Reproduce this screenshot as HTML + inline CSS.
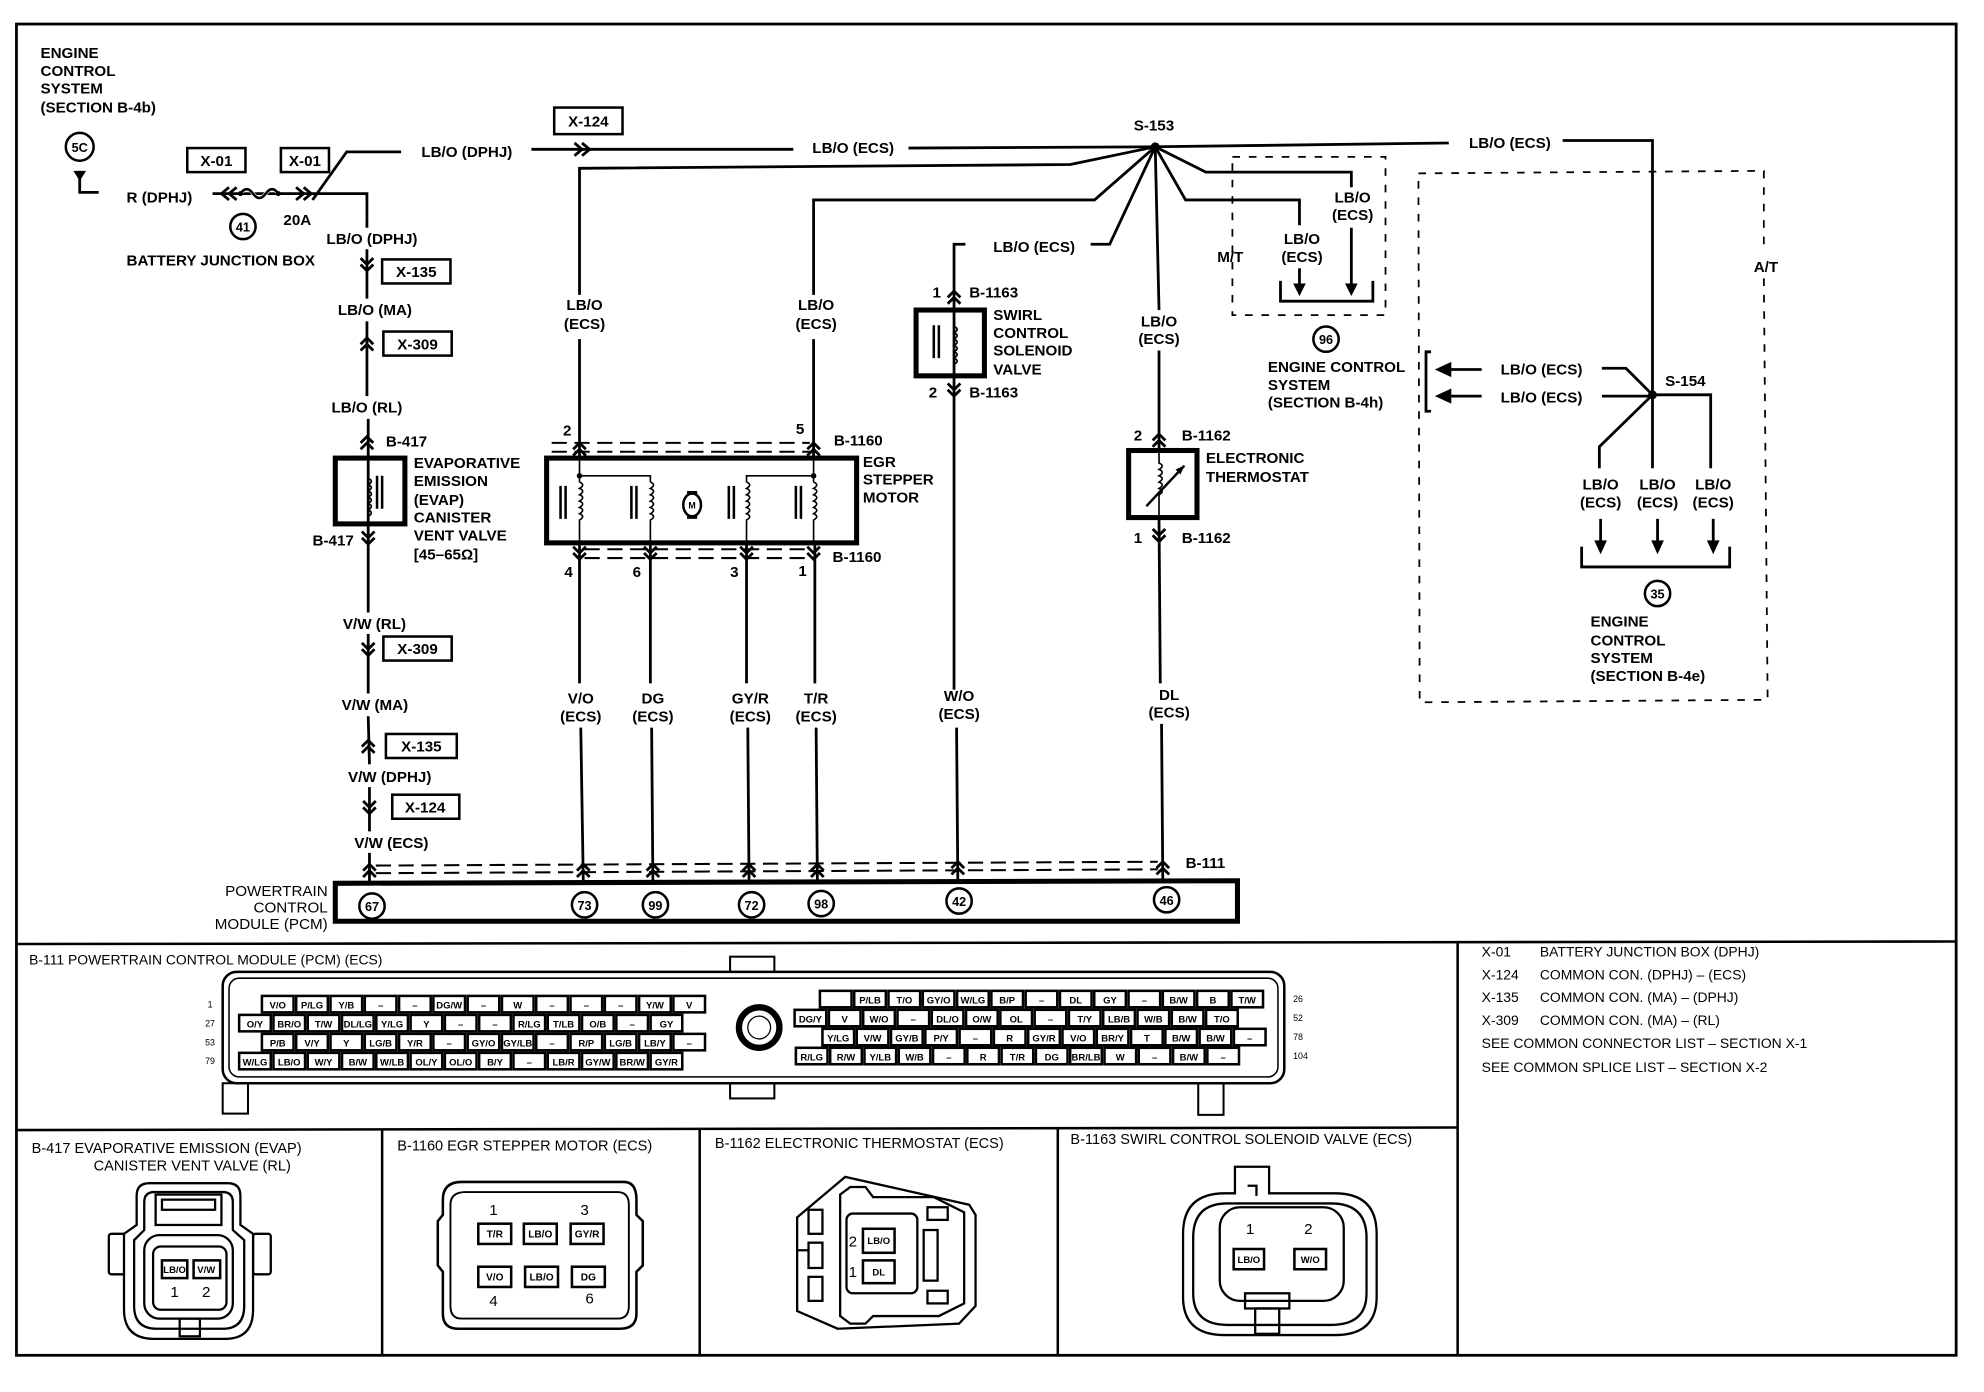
<!DOCTYPE html>
<html><head><meta charset="utf-8"><style>
html,body{margin:0;padding:0;background:#fff;}
svg{display:block;}
text{font-family:"Liberation Sans",Arial,sans-serif;fill:#000;}
.b{font-weight:bold;font-size:12px;}
.n{font-size:11px;}
.p{font-size:7.5px;font-weight:bold;}
.w{fill:none;stroke:#000;stroke-width:2.2;}
.t{fill:none;stroke:#000;stroke-width:1.3;}
.k{fill:none;stroke:#000;stroke-width:4;}
.d{fill:none;stroke:#000;stroke-width:1.6;stroke-dasharray:12 6;}
.dl{fill:none;stroke:#000;stroke-width:1.4;stroke-dasharray:6 7;}
.c{fill:#fff;stroke:#000;stroke-width:2;}
.cell{fill:#fff;stroke:#000;stroke-width:2;}
</style></head><body>
<svg width="1984" height="1392" viewBox="0 0 1568 1100" preserveAspectRatio="none" xmlns="http://www.w3.org/2000/svg">
<rect x="0" y="0" width="1568" height="1100" fill="#fff"/>
<!-- outer frame -->
<rect x="13" y="19" width="1533" height="1052" fill="none" stroke="#000" stroke-width="2.2"/>
<line x1="13" y1="746" x2="1546" y2="744" stroke="#000" stroke-width="2"/>
<line x1="13" y1="893" x2="1152" y2="891" stroke="#000" stroke-width="2"/>
<line x1="1152" y1="744" x2="1152" y2="1071" stroke="#000" stroke-width="2"/>
<line x1="302" y1="893" x2="302" y2="1071" stroke="#000" stroke-width="2"/>
<line x1="553" y1="893" x2="553" y2="1071" stroke="#000" stroke-width="2"/>
<line x1="836" y1="891" x2="836" y2="1071" stroke="#000" stroke-width="2"/>

<!-- top-left ECS ref -->
<text class="b" x="32" y="46">ENGINE</text>
<text class="b" x="32" y="60">CONTROL</text>
<text class="b" x="32" y="74">SYSTEM</text>
<text class="b" x="32" y="89">(SECTION B-4b)</text>
<circle cx="63" cy="116" r="11" class="c"/><text class="b" x="63" y="120" text-anchor="middle" style="font-size:10px">5C</text>
<polygon points="58,135 68,135 63,143" fill="#000"/>
<path class="w" d="M63 135 L63 152 L78 152"/>
<text class="b" x="100" y="160">R (DPHJ)</text>
<path class="w" d="M168 153 L290 153 L290 172"/>
<path class="w" d="M181 148 L175 153 L181 158 M187 148 L181 153 L187 158"/>
<path d="M190 153 q5 -7 10 0 q5 7 10 0 q5 -7 10 0" fill="none" stroke="#fff" stroke-width="3"/>
<path d="M190 153 q5 -7 10 0 q5 7 10 0 q5 -7 10 0" fill="none" stroke="#000" stroke-width="2"/>
<circle cx="190" cy="153" r="2" fill="#000"/><circle cx="220" cy="153" r="2" fill="#000"/>
<path class="w" d="M234 148 L240 153 L234 158 M240 148 L246 153 L240 158"/>
<path class="w" d="M247 158 L274 120 L317 120"/>
<rect x="148" y="117" width="46" height="19" fill="none" stroke="#000" stroke-width="2"/><text class="b" x="171" y="131" text-anchor="middle">X-01</text>
<rect x="222" y="117" width="38" height="19" fill="none" stroke="#000" stroke-width="2"/><text class="b" x="241" y="131" text-anchor="middle">X-01</text>
<circle cx="192" cy="179" r="10" class="c"/><text class="b" x="192" y="183" text-anchor="middle" style="font-size:10px">41</text>
<text class="b" x="224" y="178">20A</text>
<text class="b" x="100" y="210">BATTERY JUNCTION BOX</text>
<text class="b" x="333" y="124">LB/O (DPHJ)</text>
<rect x="438" y="85" width="54" height="21" fill="none" stroke="#000" stroke-width="2"/><text class="b" x="465" y="100" text-anchor="middle">X-124</text>
<path class="w" d="M420 118 L627 118 M718 117 L912 116"/>
<path class="w" d="M454 113 L460 118 L454 123 M460 113 L466 118 L460 123"/>
<text class="b" x="642" y="121">LB/O (ECS)</text>
<text class="b" x="912" y="103" text-anchor="middle">S-153</text>
<circle cx="913" cy="116" r="3.5" fill="#000"/>
<path class="w" d="M913 116 L1145 113 M1235 111 L1306 111 L1306 312"/>
<text class="b" x="1161" y="117">LB/O (ECS)</text>

<!-- EVAP column wire x=291 -->
<path class="w" d="M290 172 L290 180 M290 197 L290 236 M290 254 L290 313 M291 331 L291 484 M291 501 L291 548 M291 566 L292 604 M292 622 L292 657 M292 674 L292 698"/>
<text class="b" x="258" y="193">LB/O (DPHJ)</text>
<path class="w" d="M285 204 L290 209 L295 204 M285 209 L290 214 L295 209"/>
<rect x="302" y="205" width="54" height="19" fill="none" stroke="#000" stroke-width="2"/><text class="b" x="329" y="219" text-anchor="middle">X-135</text>
<text class="b" x="267" y="249">LB/O (MA)</text>
<path class="w" d="M285 272 L290 267 L295 272 M285 277 L290 272 L295 277"/>
<rect x="303" y="262" width="54" height="19" fill="none" stroke="#000" stroke-width="2"/><text class="b" x="330" y="276" text-anchor="middle">X-309</text>
<text class="b" x="262" y="326">LB/O (RL)</text>
<path class="w" d="M285 350 L290 345 L295 350 M285 355 L290 350 L295 355"/>
<text class="b" x="305" y="353">B-417</text>
<rect x="265" y="362" width="55" height="52" class="k"/>
<path class="t" d="M291 378 q5 2 0 5 q5 2 0 5 q5 2 0 5 q5 2 0 5 q5 2 0 5 q5 2 0 5"/>
<path d="M298 376 L298 402 M302 376 L302 402" stroke="#000" stroke-width="2"/>
<path class="w" d="M286 420 L291 425 L296 420 M286 425 L291 430 L296 425"/>
<text class="b" x="247" y="431">B-417</text>
<text class="b" x="327" y="370">EVAPORATIVE</text>
<text class="b" x="327" y="384">EMISSION</text>
<text class="b" x="327" y="399">(EVAP)</text>
<text class="b" x="327" y="413">CANISTER</text>
<text class="b" x="327" y="427">VENT VALVE</text>
<text class="b" x="327" y="442">[45–65Ω]</text>
<text class="b" x="271" y="497">V/W (RL)</text>
<path class="w" d="M286 508 L291 513 L296 508 M286 513 L291 518 L296 513"/>
<rect x="303" y="503" width="54" height="19" fill="none" stroke="#000" stroke-width="2"/><text class="b" x="330" y="517" text-anchor="middle">X-309</text>
<text class="b" x="270" y="561">V/W (MA)</text>
<path class="w" d="M286 590 L291 585 L296 590 M286 595 L291 590 L296 595"/>
<rect x="305" y="580" width="56" height="19" fill="none" stroke="#000" stroke-width="2"/><text class="b" x="333" y="594" text-anchor="middle">X-135</text>
<text class="b" x="275" y="618">V/W (DPHJ)</text>
<path class="w" d="M287 633 L292 638 L297 633 M287 638 L292 643 L297 638"/>
<rect x="310" y="628" width="53" height="19" fill="none" stroke="#000" stroke-width="2"/><text class="b" x="336" y="642" text-anchor="middle">X-124</text>
<text class="b" x="280" y="670">V/W (ECS)</text>

<!-- wire 458 / 643 from S-153 -->
<path class="w" d="M913 116 L846 130 L458 133 L458 233 M458 268 L458 362"/>
<text class="b" x="462" y="245" text-anchor="middle">LB/O</text><text class="b" x="462" y="260" text-anchor="middle">(ECS)</text>
<path class="w" d="M913 116 L865 158 L643 158 L643 233 M643 268 L643 362"/>
<text class="b" x="645" y="245" text-anchor="middle">LB/O</text><text class="b" x="645" y="260" text-anchor="middle">(ECS)</text>

<!-- EGR stepper motor -->
<path class="d" d="M436 350 L640 350 M436 357 L640 357"/>
<path class="w" d="M453 355 L458 350 L463 355 M453 360 L458 355 L463 360 M638 355 L643 350 L648 355 M638 360 L643 355 L648 360"/>
<text class="b" x="445" y="344">2</text><text class="b" x="629" y="343">5</text>
<text class="b" x="659" y="352">B-1160</text>
<rect x="432" y="362" width="245" height="67" class="k"/>
<path class="t" d="M458 362 L458 381 M458 376 L514 376 L514 381 M590 381 L590 376 L643 376 M643 362 L643 381"/>
<circle cx="458" cy="376" r="2.2" fill="#000"/><circle cx="643" cy="376" r="2.2" fill="#000"/>
<path class="t" d="M458 381 q5 2 0 5 q5 2 0 5 q5 2 0 5 q5 2 0 5 q5 2 0 5 q5 2 0 5 L458 429"/>
<path class="t" d="M514 381 q5 2 0 5 q5 2 0 5 q5 2 0 5 q5 2 0 5 q5 2 0 5 q5 2 0 5 L514 429"/>
<path class="t" d="M590 381 q5 2 0 5 q5 2 0 5 q5 2 0 5 q5 2 0 5 q5 2 0 5 q5 2 0 5 L590 429"/>
<path class="t" d="M643 381 q5 2 0 5 q5 2 0 5 q5 2 0 5 q5 2 0 5 q5 2 0 5 q5 2 0 5 L643 429"/>
<path d="M443 384 L443 410 M447 384 L447 410 M499 384 L499 410 M503 384 L503 410 M576 384 L576 410 M580 384 L580 410 M629 384 L629 410 M633 384 L633 410" stroke="#000" stroke-width="2"/>
<ellipse cx="547" cy="399" rx="7" ry="9" fill="#fff" stroke="#000" stroke-width="2"/>
<rect x="543" y="388" width="8" height="3" fill="#000"/><rect x="543" y="407" width="8" height="3" fill="#000"/>
<text x="547" y="402" text-anchor="middle" style="font-size:7px;font-weight:bold">M</text>
<text class="b" x="682" y="369">EGR</text><text class="b" x="682" y="383">STEPPER</text><text class="b" x="682" y="397">MOTOR</text>
<path class="d" d="M462 434 L640 434 M462 441 L640 441"/>
<path class="w" d="M453 432 L458 437 L463 432 M453 437 L458 442 L463 437 M509 432 L514 437 L519 432 M509 437 L514 442 L519 437 M585 432 L590 437 L595 432 M585 437 L590 442 L595 437 M638 432 L643 437 L648 432 M638 437 L643 442 L648 437"/>
<text class="b" x="658" y="444">B-1160</text>
<text class="b" x="446" y="456">4</text><text class="b" x="500" y="456">6</text><text class="b" x="577" y="456">3</text><text class="b" x="631" y="455">1</text>
<path class="w" d="M458 429 L458 540 M459 575 L461 698 M514 429 L514 540 M515 575 L516 698 M590 429 L590 540 M591 575 L592 698 M644 429 L644 540 M645 575 L646 698"/>
<text class="b" x="459" y="556" text-anchor="middle">V/O</text><text class="b" x="459" y="570" text-anchor="middle">(ECS)</text>
<text class="b" x="516" y="556" text-anchor="middle">DG</text><text class="b" x="516" y="570" text-anchor="middle">(ECS)</text>
<text class="b" x="593" y="556" text-anchor="middle">GY/R</text><text class="b" x="593" y="570" text-anchor="middle">(ECS)</text>
<text class="b" x="645" y="556" text-anchor="middle">T/R</text><text class="b" x="645" y="570" text-anchor="middle">(ECS)</text>

<!-- swirl -->
<path class="w" d="M913 116 L877 193 L862 193 M763 193 L754 193 L754 545 M756 575 L757 698"/>
<text class="b" x="785" y="199">LB/O (ECS)</text>
<path class="w" d="M749 235 L754 230 L759 235 M749 240 L754 235 L759 240"/>
<text class="b" x="737" y="235">1</text><text class="b" x="766" y="235">B-1163</text>
<rect x="724" y="245" width="54" height="52" class="k"/>
<path class="t" d="M754 258 q5 2 0 5 q5 2 0 5 q5 2 0 5 q5 2 0 5 q5 2 0 5 q5 2 0 5"/>
<path d="M738 257 L738 283 M742 257 L742 283" stroke="#000" stroke-width="2"/>
<path class="w" d="M749 303 L754 308 L759 303 M749 308 L754 313 L759 308"/>
<text class="b" x="734" y="314">2</text><text class="b" x="766" y="314">B-1163</text>
<text class="b" x="785" y="253">SWIRL</text><text class="b" x="785" y="267">CONTROL</text><text class="b" x="785" y="281">SOLENOID</text><text class="b" x="785" y="296">VALVE</text>
<text class="b" x="758" y="554" text-anchor="middle">W/O</text><text class="b" x="758" y="568" text-anchor="middle">(ECS)</text>

<!-- thermostat -->
<path class="w" d="M913 116 L916 245 M916 277 L916 358 M916 410 L917 540 M918 572 L919 698"/>
<text class="b" x="916" y="258" text-anchor="middle">LB/O</text><text class="b" x="916" y="272" text-anchor="middle">(ECS)</text>
<path class="w" d="M911 348 L916 343 L921 348 M911 353 L916 348 L921 353"/>
<text class="b" x="896" y="348">2</text><text class="b" x="934" y="348">B-1162</text>
<rect x="892" y="356" width="54" height="53" class="k"/>
<path class="t" d="M916 358 L916 366 q5 2 0 5 q5 2 0 5 q5 2 0 5 q5 2 0 5 q5 2 0 5 L916 410"/>
<path d="M906 400 L936 368" stroke="#000" stroke-width="2"/><polygon points="936,368 929,371 933,375" fill="#000"/>
<path class="w" d="M911 418 L916 423 L921 418 M911 423 L916 428 L921 423"/>
<text class="b" x="896" y="429">1</text><text class="b" x="934" y="429">B-1162</text>
<text class="b" x="953" y="366">ELECTRONIC</text><text class="b" x="953" y="381">THERMOSTAT</text>
<text class="b" x="924" y="553" text-anchor="middle">DL</text><text class="b" x="924" y="567" text-anchor="middle">(ECS)</text>

<!-- M/T -->
<rect x="974" y="124" width="121" height="125" class="dl"/>
<path class="w" d="M913 116 L937 158 L1027 158 L1027 178 M1027 212 L1027 226"/>
<polygon points="1022,224 1032,224 1027,234" fill="#000"/>
<path class="w" d="M913 116 L953 136 L1068 136 L1068 148 M1068 180 L1068 226"/>
<polygon points="1063,224 1073,224 1068,234" fill="#000"/>
<path class="w" d="M1012 222 L1012 238 L1085 238 L1085 222"/>
<text class="b" x="962" y="207">M/T</text>
<text class="b" x="1029" y="193" text-anchor="middle">LB/O</text><text class="b" x="1029" y="207" text-anchor="middle">(ECS)</text>
<text class="b" x="1069" y="160" text-anchor="middle">LB/O</text><text class="b" x="1069" y="174" text-anchor="middle">(ECS)</text>
<circle cx="1048" cy="268" r="10" class="c"/><text class="b" x="1048" y="272" text-anchor="middle" style="font-size:10px">96</text>
<text class="b" x="1002" y="294">ENGINE CONTROL</text><text class="b" x="1002" y="308">SYSTEM</text><text class="b" x="1002" y="322">(SECTION B-4h)</text>

<!-- A/T -->
<path class="dl" d="M1121 137 L1394 135 L1394 200 M1394 220 L1397 553 L1122 555 L1121 137"/>
<text class="b" x="1386" y="215">A/T</text>
<circle cx="1306" cy="312" r="3.5" fill="#000"/>
<text class="b" x="1316" y="305">S-154</text>
<path class="w" d="M1306 312 L1285 291 L1266 291 M1306 313 L1266 313"/>
<text class="b" x="1186" y="296">LB/O (ECS)</text><text class="b" x="1186" y="318">LB/O (ECS)</text>
<path class="w" d="M1145 292 L1171 292 M1145 313 L1171 313"/>
<polygon points="1134,292 1147,286 1147,298" fill="#000"/><polygon points="1134,313 1147,307 1147,319" fill="#000"/>
<path class="w" d="M1131 278 L1127 278 L1127 325 L1131 325"/>
<path class="w" d="M1306 312 L1306 370 M1306 312 L1352 312 L1352 370 M1306 312 L1264 353 L1264 370"/>
<text class="b" x="1265" y="387" text-anchor="middle">LB/O</text><text class="b" x="1265" y="401" text-anchor="middle">(ECS)</text>
<text class="b" x="1310" y="387" text-anchor="middle">LB/O</text><text class="b" x="1310" y="401" text-anchor="middle">(ECS)</text>
<text class="b" x="1354" y="387" text-anchor="middle">LB/O</text><text class="b" x="1354" y="401" text-anchor="middle">(ECS)</text>
<path class="w" d="M1265 410 L1265 428 M1310 410 L1310 428 M1354 410 L1354 428"/>
<polygon points="1260,427 1270,427 1265,438" fill="#000"/><polygon points="1305,427 1315,427 1310,438" fill="#000"/><polygon points="1349,427 1359,427 1354,438" fill="#000"/>
<path class="w" d="M1250 432 L1250 448 L1367 448 L1367 432"/>
<circle cx="1310" cy="469" r="10" class="c"/><text class="b" x="1310" y="473" text-anchor="middle" style="font-size:10px">35</text>
<text class="b" x="1257" y="495">ENGINE</text><text class="b" x="1257" y="510">CONTROL</text><text class="b" x="1257" y="524">SYSTEM</text><text class="b" x="1257" y="538">(SECTION B-4e)</text>

<!-- PCM -->
<path class="d" d="M297 684 L915 681 M297 690 L915 687"/>
<path class="w" d="M287 688 L292 683 L297 688 M287 693 L292 688 L297 693
M456 688 L461 683 L466 688 M456 693 L461 688 L466 693
M511 688 L516 683 L521 688 M511 693 L516 688 L521 693
M587 688 L592 683 L597 688 M587 693 L592 688 L597 693
M641 688 L646 683 L651 688 M641 693 L646 688 L651 693
M752 686 L757 681 L762 686 M752 691 L757 686 L762 691
M914 686 L919 681 L924 686 M914 691 L919 686 L924 691"/>
<text class="b" x="937" y="686">B-111</text>
<path d="M265 698 L978 696 L978 728 L265 728 Z" class="k"/>
<text class="n" x="259" y="708" text-anchor="end" style="font-size:12px">POWERTRAIN</text>
<text class="n" x="259" y="721" text-anchor="end" style="font-size:12px">CONTROL</text>
<text class="n" x="259" y="734" text-anchor="end" style="font-size:12px">MODULE (PCM)</text>
<g>
<circle cx="294" cy="716" r="10" class="c"/><text class="b" x="294" y="720" text-anchor="middle" style="font-size:10px">67</text>
<circle cx="462" cy="715" r="10" class="c"/><text class="b" x="462" y="719" text-anchor="middle" style="font-size:10px">73</text>
<circle cx="518" cy="715" r="10" class="c"/><text class="b" x="518" y="719" text-anchor="middle" style="font-size:10px">99</text>
<circle cx="594" cy="715" r="10" class="c"/><text class="b" x="594" y="719" text-anchor="middle" style="font-size:10px">72</text>
<circle cx="649" cy="714" r="10" class="c"/><text class="b" x="649" y="718" text-anchor="middle" style="font-size:10px">98</text>
<circle cx="758" cy="712" r="10" class="c"/><text class="b" x="758" y="716" text-anchor="middle" style="font-size:10px">42</text>
<circle cx="922" cy="711" r="10" class="c"/><text class="b" x="922" y="715" text-anchor="middle" style="font-size:10px">46</text>
</g>

<!-- B-111 connector view -->
<text class="n" x="23" y="762">B-111   POWERTRAIN CONTROL MODULE (PCM) (ECS)</text>
<rect x="577" y="756" width="35" height="12" fill="#fff" stroke="#000" stroke-width="1.6"/>
<rect x="577" y="856" width="35" height="12" fill="#fff" stroke="#000" stroke-width="1.6"/>
<rect x="176" y="856" width="20" height="24" fill="#fff" stroke="#000" stroke-width="1.6"/>
<rect x="947" y="852" width="20" height="29" fill="#fff" stroke="#000" stroke-width="1.6"/>
<rect x="176" y="768" width="839" height="88" rx="11" fill="#fff" stroke="#000" stroke-width="2"/>
<rect x="181" y="773" width="829" height="78" rx="8" fill="none" stroke="#000" stroke-width="1.2"/>
<circle cx="600" cy="812" r="16" fill="#fff" stroke="#000" stroke-width="5"/>
<circle cx="600" cy="812" r="9" fill="#fff" stroke="#000" stroke-width="1"/>
<g style="font-size:8px">
<text x="166" y="796" text-anchor="middle" style="font-size:7px">1</text>
<text x="166" y="811" text-anchor="middle" style="font-size:7px">27</text>
<text x="166" y="826" text-anchor="middle" style="font-size:7px">53</text>
<text x="166" y="841" text-anchor="middle" style="font-size:7px">79</text>
<text x="1022" y="792" style="font-size:7px">26</text>
<text x="1022" y="807" style="font-size:7px">52</text>
<text x="1022" y="822" style="font-size:7px">78</text>
<text x="1022" y="837" style="font-size:7px">104</text>
</g>
<!-- left rows -->
<g class="p">
<g transform="translate(207,787)">
<rect class="cell" x="0" width="25" height="13"/><text x="12.5" y="10" text-anchor="middle">V/O</text>
<rect class="cell" x="27.1" width="25" height="13"/><text x="39.6" y="10" text-anchor="middle">P/LG</text>
<rect class="cell" x="54.2" width="25" height="13"/><text x="66.7" y="10" text-anchor="middle">Y/B</text>
<rect class="cell" x="81.3" width="25" height="13"/><text x="93.8" y="10" text-anchor="middle">–</text>
<rect class="cell" x="108.4" width="25" height="13"/><text x="120.9" y="10" text-anchor="middle">–</text>
<rect class="cell" x="135.5" width="25" height="13"/><text x="148" y="10" text-anchor="middle">DG/W</text>
<rect class="cell" x="162.6" width="25" height="13"/><text x="175.1" y="10" text-anchor="middle">–</text>
<rect class="cell" x="189.7" width="25" height="13"/><text x="202.2" y="10" text-anchor="middle">W</text>
<rect class="cell" x="216.8" width="25" height="13"/><text x="229.3" y="10" text-anchor="middle">–</text>
<rect class="cell" x="243.9" width="25" height="13"/><text x="256.4" y="10" text-anchor="middle">–</text>
<rect class="cell" x="271" width="25" height="13"/><text x="283.5" y="10" text-anchor="middle">–</text>
<rect class="cell" x="298.1" width="25" height="13"/><text x="310.6" y="10" text-anchor="middle">Y/W</text>
<rect class="cell" x="325.2" width="25" height="13"/><text x="337.7" y="10" text-anchor="middle">V</text>
</g>
<g transform="translate(189,802)">
<rect class="cell" x="0" width="25" height="13"/><text x="12.5" y="10" text-anchor="middle">O/Y</text>
<rect class="cell" x="27.1" width="25" height="13"/><text x="39.6" y="10" text-anchor="middle">BR/O</text>
<rect class="cell" x="54.2" width="25" height="13"/><text x="66.7" y="10" text-anchor="middle">T/W</text>
<rect class="cell" x="81.3" width="25" height="13"/><text x="93.8" y="10" text-anchor="middle">DL/LG</text>
<rect class="cell" x="108.4" width="25" height="13"/><text x="120.9" y="10" text-anchor="middle">Y/LG</text>
<rect class="cell" x="135.5" width="25" height="13"/><text x="148" y="10" text-anchor="middle">Y</text>
<rect class="cell" x="162.6" width="25" height="13"/><text x="175.1" y="10" text-anchor="middle">–</text>
<rect class="cell" x="189.7" width="25" height="13"/><text x="202.2" y="10" text-anchor="middle">–</text>
<rect class="cell" x="216.8" width="25" height="13"/><text x="229.3" y="10" text-anchor="middle">R/LG</text>
<rect class="cell" x="243.9" width="25" height="13"/><text x="256.4" y="10" text-anchor="middle">T/LB</text>
<rect class="cell" x="271" width="25" height="13"/><text x="283.5" y="10" text-anchor="middle">O/B</text>
<rect class="cell" x="298.1" width="25" height="13"/><text x="310.6" y="10" text-anchor="middle">–</text>
<rect class="cell" x="325.2" width="25" height="13"/><text x="337.7" y="10" text-anchor="middle">GY</text>
</g>
<g transform="translate(207,817)">
<rect class="cell" x="0" width="25" height="13"/><text x="12.5" y="10" text-anchor="middle">P/B</text>
<rect class="cell" x="27.1" width="25" height="13"/><text x="39.6" y="10" text-anchor="middle">V/Y</text>
<rect class="cell" x="54.2" width="25" height="13"/><text x="66.7" y="10" text-anchor="middle">Y</text>
<rect class="cell" x="81.3" width="25" height="13"/><text x="93.8" y="10" text-anchor="middle">LG/B</text>
<rect class="cell" x="108.4" width="25" height="13"/><text x="120.9" y="10" text-anchor="middle">Y/R</text>
<rect class="cell" x="135.5" width="25" height="13"/><text x="148" y="10" text-anchor="middle">–</text>
<rect class="cell" x="162.6" width="25" height="13"/><text x="175.1" y="10" text-anchor="middle">GY/O</text>
<rect class="cell" x="189.7" width="25" height="13"/><text x="202.2" y="10" text-anchor="middle">GY/LB</text>
<rect class="cell" x="216.8" width="25" height="13"/><text x="229.3" y="10" text-anchor="middle">–</text>
<rect class="cell" x="243.9" width="25" height="13"/><text x="256.4" y="10" text-anchor="middle">R/P</text>
<rect class="cell" x="271" width="25" height="13"/><text x="283.5" y="10" text-anchor="middle">LG/B</text>
<rect class="cell" x="298.1" width="25" height="13"/><text x="310.6" y="10" text-anchor="middle">LB/Y</text>
<rect class="cell" x="325.2" width="25" height="13"/><text x="337.7" y="10" text-anchor="middle">–</text>
</g>
<g transform="translate(189,832)">
<rect class="cell" x="0" width="25" height="13"/><text x="12.5" y="10" text-anchor="middle">W/LG</text>
<rect class="cell" x="27.1" width="25" height="13"/><text x="39.6" y="10" text-anchor="middle">LB/O</text>
<rect class="cell" x="54.2" width="25" height="13"/><text x="66.7" y="10" text-anchor="middle">W/Y</text>
<rect class="cell" x="81.3" width="25" height="13"/><text x="93.8" y="10" text-anchor="middle">B/W</text>
<rect class="cell" x="108.4" width="25" height="13"/><text x="120.9" y="10" text-anchor="middle">W/LB</text>
<rect class="cell" x="135.5" width="25" height="13"/><text x="148" y="10" text-anchor="middle">OL/Y</text>
<rect class="cell" x="162.6" width="25" height="13"/><text x="175.1" y="10" text-anchor="middle">OL/O</text>
<rect class="cell" x="189.7" width="25" height="13"/><text x="202.2" y="10" text-anchor="middle">B/Y</text>
<rect class="cell" x="216.8" width="25" height="13"/><text x="229.3" y="10" text-anchor="middle">–</text>
<rect class="cell" x="243.9" width="25" height="13"/><text x="256.4" y="10" text-anchor="middle">LB/R</text>
<rect class="cell" x="271" width="25" height="13"/><text x="283.5" y="10" text-anchor="middle">GY/W</text>
<rect class="cell" x="298.1" width="25" height="13"/><text x="310.6" y="10" text-anchor="middle">BR/W</text>
<rect class="cell" x="325.2" width="25" height="13"/><text x="337.7" y="10" text-anchor="middle">GY/R</text>
</g>
<!-- right rows -->
<g transform="translate(648,783)">
<rect class="cell" x="0" width="25" height="13"/><text x="12.5" y="10" text-anchor="middle"></text>
<rect class="cell" x="27.1" width="25" height="13"/><text x="39.6" y="10" text-anchor="middle">P/LB</text>
<rect class="cell" x="54.2" width="25" height="13"/><text x="66.7" y="10" text-anchor="middle">T/O</text>
<rect class="cell" x="81.3" width="25" height="13"/><text x="93.8" y="10" text-anchor="middle">GY/O</text>
<rect class="cell" x="108.4" width="25" height="13"/><text x="120.9" y="10" text-anchor="middle">W/LG</text>
<rect class="cell" x="135.5" width="25" height="13"/><text x="148" y="10" text-anchor="middle">B/P</text>
<rect class="cell" x="162.6" width="25" height="13"/><text x="175.1" y="10" text-anchor="middle">–</text>
<rect class="cell" x="189.7" width="25" height="13"/><text x="202.2" y="10" text-anchor="middle">DL</text>
<rect class="cell" x="216.8" width="25" height="13"/><text x="229.3" y="10" text-anchor="middle">GY</text>
<rect class="cell" x="243.9" width="25" height="13"/><text x="256.4" y="10" text-anchor="middle">–</text>
<rect class="cell" x="271" width="25" height="13"/><text x="283.5" y="10" text-anchor="middle">B/W</text>
<rect class="cell" x="298.1" width="25" height="13"/><text x="310.6" y="10" text-anchor="middle">B</text>
<rect class="cell" x="325.2" width="25" height="13"/><text x="337.7" y="10" text-anchor="middle">T/W</text>
</g>
<g transform="translate(628,798)">
<rect class="cell" x="0" width="25" height="13"/><text x="12.5" y="10" text-anchor="middle">DG/Y</text>
<rect class="cell" x="27.1" width="25" height="13"/><text x="39.6" y="10" text-anchor="middle">V</text>
<rect class="cell" x="54.2" width="25" height="13"/><text x="66.7" y="10" text-anchor="middle">W/O</text>
<rect class="cell" x="81.3" width="25" height="13"/><text x="93.8" y="10" text-anchor="middle">–</text>
<rect class="cell" x="108.4" width="25" height="13"/><text x="120.9" y="10" text-anchor="middle">DL/O</text>
<rect class="cell" x="135.5" width="25" height="13"/><text x="148" y="10" text-anchor="middle">O/W</text>
<rect class="cell" x="162.6" width="25" height="13"/><text x="175.1" y="10" text-anchor="middle">OL</text>
<rect class="cell" x="189.7" width="25" height="13"/><text x="202.2" y="10" text-anchor="middle">–</text>
<rect class="cell" x="216.8" width="25" height="13"/><text x="229.3" y="10" text-anchor="middle">T/Y</text>
<rect class="cell" x="243.9" width="25" height="13"/><text x="256.4" y="10" text-anchor="middle">LB/B</text>
<rect class="cell" x="271" width="25" height="13"/><text x="283.5" y="10" text-anchor="middle">W/B</text>
<rect class="cell" x="298.1" width="25" height="13"/><text x="310.6" y="10" text-anchor="middle">B/W</text>
<rect class="cell" x="325.2" width="25" height="13"/><text x="337.7" y="10" text-anchor="middle">T/O</text>
</g>
<g transform="translate(650,813)">
<rect class="cell" x="0" width="25" height="13"/><text x="12.5" y="10" text-anchor="middle">Y/LG</text>
<rect class="cell" x="27.1" width="25" height="13"/><text x="39.6" y="10" text-anchor="middle">V/W</text>
<rect class="cell" x="54.2" width="25" height="13"/><text x="66.7" y="10" text-anchor="middle">GY/B</text>
<rect class="cell" x="81.3" width="25" height="13"/><text x="93.8" y="10" text-anchor="middle">P/Y</text>
<rect class="cell" x="108.4" width="25" height="13"/><text x="120.9" y="10" text-anchor="middle">–</text>
<rect class="cell" x="135.5" width="25" height="13"/><text x="148" y="10" text-anchor="middle">R</text>
<rect class="cell" x="162.6" width="25" height="13"/><text x="175.1" y="10" text-anchor="middle">GY/R</text>
<rect class="cell" x="189.7" width="25" height="13"/><text x="202.2" y="10" text-anchor="middle">V/O</text>
<rect class="cell" x="216.8" width="25" height="13"/><text x="229.3" y="10" text-anchor="middle">BR/Y</text>
<rect class="cell" x="243.9" width="25" height="13"/><text x="256.4" y="10" text-anchor="middle">T</text>
<rect class="cell" x="271" width="25" height="13"/><text x="283.5" y="10" text-anchor="middle">B/W</text>
<rect class="cell" x="298.1" width="25" height="13"/><text x="310.6" y="10" text-anchor="middle">B/W</text>
<rect class="cell" x="325.2" width="25" height="13"/><text x="337.7" y="10" text-anchor="middle">–</text>
</g>
<g transform="translate(629,828)">
<rect class="cell" x="0" width="25" height="13"/><text x="12.5" y="10" text-anchor="middle">R/LG</text>
<rect class="cell" x="27.1" width="25" height="13"/><text x="39.6" y="10" text-anchor="middle">R/W</text>
<rect class="cell" x="54.2" width="25" height="13"/><text x="66.7" y="10" text-anchor="middle">Y/LB</text>
<rect class="cell" x="81.3" width="25" height="13"/><text x="93.8" y="10" text-anchor="middle">W/B</text>
<rect class="cell" x="108.4" width="25" height="13"/><text x="120.9" y="10" text-anchor="middle">–</text>
<rect class="cell" x="135.5" width="25" height="13"/><text x="148" y="10" text-anchor="middle">R</text>
<rect class="cell" x="162.6" width="25" height="13"/><text x="175.1" y="10" text-anchor="middle">T/R</text>
<rect class="cell" x="189.7" width="25" height="13"/><text x="202.2" y="10" text-anchor="middle">DG</text>
<rect class="cell" x="216.8" width="25" height="13"/><text x="229.3" y="10" text-anchor="middle">BR/LB</text>
<rect class="cell" x="243.9" width="25" height="13"/><text x="256.4" y="10" text-anchor="middle">W</text>
<rect class="cell" x="271" width="25" height="13"/><text x="283.5" y="10" text-anchor="middle">–</text>
<rect class="cell" x="298.1" width="25" height="13"/><text x="310.6" y="10" text-anchor="middle">B/W</text>
<rect class="cell" x="325.2" width="25" height="13"/><text x="337.7" y="10" text-anchor="middle">–</text>
</g>
</g>

<!-- legend -->
<g class="n" style="font-size:11px">
<text x="1171" y="756">X-01</text><text x="1217" y="756">BATTERY JUNCTION BOX (DPHJ)</text>
<text x="1171" y="774">X-124</text><text x="1217" y="774">COMMON CON. (DPHJ) – (ECS)</text>
<text x="1171" y="792">X-135</text><text x="1217" y="792">COMMON CON. (MA) – (DPHJ)</text>
<text x="1171" y="810">X-309</text><text x="1217" y="810">COMMON CON. (MA) – (RL)</text>
<text x="1171" y="828">SEE COMMON CONNECTOR LIST – SECTION X-1</text>
<text x="1171" y="847">SEE COMMON SPLICE LIST – SECTION X-2</text>
</g>

<!-- B-417 connector -->
<text class="n" x="25" y="911" style="font-size:11.5px">B-417   EVAPORATIVE EMISSION (EVAP)</text>
<text class="n" x="74" y="925" style="font-size:11.5px">CANISTER VENT VALVE (RL)</text>
<g fill="none" stroke="#000" stroke-width="1.8">
<rect x="86" y="975" width="14" height="32" rx="2"/>
<rect x="200" y="975" width="14" height="32" rx="2"/>
<path d="M108 968 L108 945 Q108 935 118 935 L180 935 Q190 935 190 945 L190 968 L200 975 L200 1035 Q200 1058 178 1058 L122 1058 Q98 1058 98 1035 L98 975 Z" fill="#fff"/>
<path d="M114 972 L114 950 Q114 942 122 942 L176 942 Q184 942 184 950 L184 972 L193 980 L193 1032 Q193 1050 176 1050 L124 1050 Q106 1050 106 1032 L106 980 Z"/>
<rect x="123" y="944" width="52" height="24"/>
<rect x="128" y="948" width="42" height="8"/>
<rect x="114" y="976" width="70" height="66" rx="12"/>
<rect x="121" y="985" width="58" height="50" rx="6"/>
<rect x="142" y="1042" width="16" height="14"/>
</g>
<rect x="128" y="996" width="20" height="14" fill="#fff" stroke="#000" stroke-width="2"/><text class="p" x="138" y="1006" text-anchor="middle">LB/O</text>
<rect x="153" y="996" width="21" height="14" fill="#fff" stroke="#000" stroke-width="2"/><text class="p" x="163" y="1006" text-anchor="middle">V/W</text>
<text class="n" x="138" y="1025" text-anchor="middle" style="font-size:12px">1</text><text class="n" x="163" y="1025" text-anchor="middle" style="font-size:12px">2</text>

<!-- B-1160 connector -->
<text class="n" x="314" y="909" style="font-size:11.5px">B-1160  EGR STEPPER MOTOR (ECS)</text>
<path d="M365 934 L493 934 Q503 934 503 948 L503 960 L508 965 L508 1000 L503 1005 L503 1038 Q503 1050 490 1050 L362 1050 Q350 1050 350 1038 L350 1005 L346 1000 L346 965 L350 960 L350 948 Q350 934 365 934 Z" fill="none" stroke="#000" stroke-width="2"/>
<path d="M368 942 L488 942 Q497 942 497 952 L497 1032 Q497 1042 488 1042 L365 1042 Q356 1042 356 1032 L356 952 Q356 942 368 942 Z" fill="none" stroke="#000" stroke-width="1.5"/>
<g class="p" style="font-size:8px">
<rect x="378" y="967" width="26" height="16" fill="#fff" stroke="#000" stroke-width="2"/><text x="391" y="978" text-anchor="middle">T/R</text>
<rect x="414" y="967" width="26" height="16" fill="#fff" stroke="#000" stroke-width="2"/><text x="427" y="978" text-anchor="middle">LB/O</text>
<rect x="451" y="967" width="26" height="16" fill="#fff" stroke="#000" stroke-width="2"/><text x="464" y="978" text-anchor="middle">GY/R</text>
<rect x="378" y="1001" width="26" height="16" fill="#fff" stroke="#000" stroke-width="2"/><text x="391" y="1012" text-anchor="middle">V/O</text>
<rect x="415" y="1001" width="26" height="16" fill="#fff" stroke="#000" stroke-width="2"/><text x="428" y="1012" text-anchor="middle">LB/O</text>
<rect x="452" y="1001" width="26" height="16" fill="#fff" stroke="#000" stroke-width="2"/><text x="465" y="1012" text-anchor="middle">DG</text>
</g>
<text class="n" x="390" y="960" text-anchor="middle" style="font-size:12px">1</text>
<text class="n" x="462" y="960" text-anchor="middle" style="font-size:12px">3</text>
<text class="n" x="390" y="1032" text-anchor="middle" style="font-size:12px">4</text>
<text class="n" x="466" y="1030" text-anchor="middle" style="font-size:12px">6</text>

<!-- B-1162 connector -->
<text class="n" x="565" y="907" style="font-size:11.5px">B-1162  ELECTRONIC THERMOSTAT (ECS)</text>
<g fill="none" stroke="#000" stroke-width="1.8">
<path d="M630 962 L668 930 L766 952 L771 960 L771 1032 L758 1046 L662 1050 L630 1036 Z"/>
<path d="M664 944 L672 938 L684 938 L690 946 L738 946 L762 958 L762 1030 L742 1040 L690 1040 L684 1046 L672 1046 L664 1040 L664 944 Z"/>
<rect x="669" y="959" width="56" height="63" rx="5"/>
<rect x="639" y="956" width="11" height="19"/>
<rect x="639" y="982" width="11" height="20"/>
<rect x="639" y="1009" width="11" height="19"/>
<path d="M630 988 L639 988"/>
<rect x="730" y="972" width="11" height="40"/>
<rect x="733" y="954" width="16" height="10"/>
<rect x="733" y="1020" width="16" height="10"/>
</g>
<rect x="682" y="971" width="25" height="19" fill="#fff" stroke="#000" stroke-width="2"/><text class="p" x="694.5" y="983" text-anchor="middle">LB/O</text>
<rect x="682" y="996" width="25" height="18" fill="#fff" stroke="#000" stroke-width="2"/><text class="p" x="694.5" y="1008" text-anchor="middle">DL</text>
<text class="n" x="674" y="985" text-anchor="middle" style="font-size:12px">2</text>
<text class="n" x="674" y="1009" text-anchor="middle" style="font-size:12px">1</text>

<!-- B-1163 connector -->
<text class="n" x="846" y="904" style="font-size:11.5px">B-1163  SWIRL CONTROL SOLENOID VALVE (ECS)</text>
<g fill="none" stroke="#000" stroke-width="1.8">
<path d="M976 943 L976 922 L1003 922 L1003 943 L1055 943 Q1088 943 1088 975 L1088 1025 Q1088 1055 1055 1055 L968 1055 Q935 1055 935 1025 L935 975 Q935 943 968 943 Z" fill="#fff"/>
<path d="M970 951 L1052 951 Q1080 951 1080 978 L1080 1022 Q1080 1047 1052 1047 L970 1047 Q943 1047 943 1022 L943 978 Q943 951 970 951 Z"/>
<path d="M986 937 L993 937 L993 945"/>
<rect x="964" y="954" width="98" height="74" rx="16"/>
<rect x="984" y="1022" width="35" height="12"/>
<rect x="992" y="1034" width="19" height="20"/>
</g>
<rect x="975" y="987" width="24" height="16" fill="#fff" stroke="#000" stroke-width="2"/><text class="p" x="987" y="998" text-anchor="middle">LB/O</text>
<rect x="1023" y="987" width="25" height="16" fill="#fff" stroke="#000" stroke-width="2"/><text class="p" x="1035.5" y="998" text-anchor="middle">W/O</text>
<text class="n" x="988" y="975" text-anchor="middle" style="font-size:12px">1</text>
<text class="n" x="1034" y="975" text-anchor="middle" style="font-size:12px">2</text>
</svg>
</body></html>
